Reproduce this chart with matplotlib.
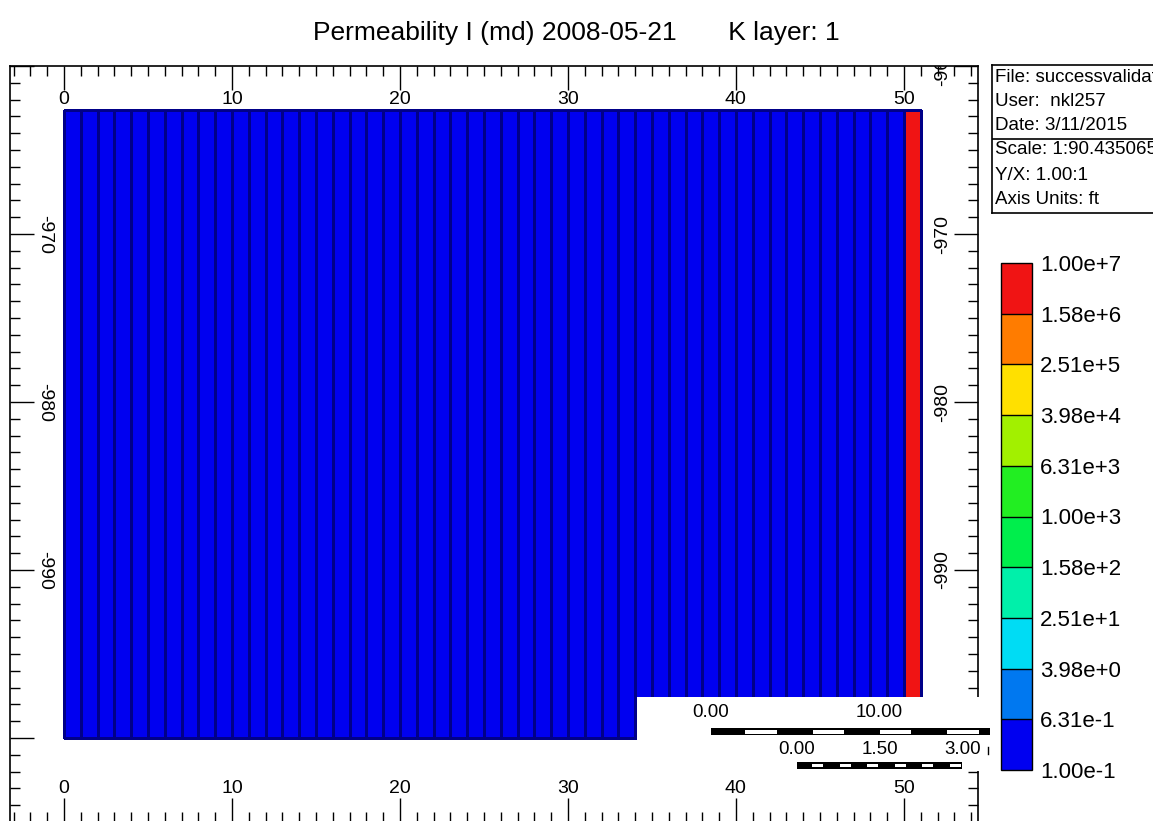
import numpy as np
import matplotlib.pyplot as plt
from matplotlib.colors import ListedColormap, BoundaryNorm
from matplotlib.patches import Rectangle
from matplotlib.ticker import MultipleLocator
import matplotlib.cm as cm

plt.rcParams['font.family'] = ['Liberation Sans', 'DejaVu Sans']

title = 'Permeability I (md) 2008-05-21       K layer: 1'

# grid: 51 columns, 1 ft wide, one row in y
x_edges = list(range(52))
y_edges = [-1000.0, -962.6]
perm = [0.3] * 50 + [1.0e7]

levels = [1.00e-1, 6.31e-1, 3.98e0, 2.51e1, 1.58e2, 1.00e3,
          6.31e3, 3.98e4, 2.51e5, 1.58e6, 1.00e7]
level_labels = ['1.00e-1', '6.31e-1', '3.98e+0', '2.51e+1', '1.58e+2', '1.00e+3',
                '6.31e+3', '3.98e+4', '2.51e+5', '1.58e+6', '1.00e+7']
colors = ['#0000f0', '#0078f0', '#00dcf4', '#00f0aa', '#00ee4c',
          '#22ee22', '#a2f000', '#ffe000', '#ff7c00', '#f01414']

left_ylabels = [-970, -980, -990]
right_ylabels = [-960, -970, -980, -990]

info_top = ['File: successvalidation', 'User:  nkl257', 'Date: 3/11/2015']
info_bot = ['Scale: 1:90.435065', 'Y/X: 1.00:1', 'Axis Units: ft']

# scale bars (ft and m)
ft_per_m = 3.2808
bar1_x0, bar1_seg, bar1_len = 38.5, 2.0, 16.6
bar1_labels = [0.0, 10.0]
bar2_x0, bar2_seg, bar2_len = 43.63, 0.25, 3.0
bar2_labels = [0.0, 1.5, 3.0]

W, H = 1153, 821
fig = plt.figure(figsize=(W / 100, H / 100), dpi=100)
fig.text(0.5, 1 - 33 / H, title, ha='center', va='center', fontsize=19)

ax = fig.add_axes([10 / W, -1 / H, 968 / W, 756 / H])
cmap = ListedColormap(colors)
norm = BoundaryNorm(levels, cmap.N)
ax.pcolormesh(x_edges, y_edges, np.array(perm)[None, :], cmap=cmap, norm=norm,
              edgecolors='#000088', linewidth=0.8)
ax.set_xlim(-3.21, 54.41)
ax.set_ylim(-1005.0, -960.0)

for a in (ax.xaxis, ax.yaxis):
    a.set_major_locator(MultipleLocator(10))
    a.set_minor_locator(MultipleLocator(1))
ax.tick_params(which='both', direction='in', top=True, bottom=True, left=True, right=True,
               width=1.0, color='black')
ax.tick_params(which='major', length=17)
ax.tick_params(which='minor', length=7.5)
ax.tick_params(axis='x', labeltop=True, labelbottom=True, pad=-30, labelsize=14)
ax.tick_params(axis='y', labelleft=False, labelright=False)
for s in ax.spines.values():
    s.set_linewidth(1.2)

for v in left_ylabels:
    ax.text(0.0355, v, str(v), transform=ax.get_yaxis_transform(), rotation=-90,
            ha='center', va='center', fontsize=14, clip_on=True)
for v in right_ylabels:
    ax.text(0.963, v, str(v), transform=ax.get_yaxis_transform(), rotation=90,
            ha='center', va='center', fontsize=14, clip_on=True)

# white box holding the scale bars
ax.add_patch(Rectangle((34.1, -1001.95), 20.6, 4.39, facecolor='white',
                       edgecolor='none', zorder=5, clip_on=False))

# scale bar 1 (ft)
ax.add_patch(Rectangle((bar1_x0, -999.85), bar1_len, 0.42, facecolor='black',
                       edgecolor='none', zorder=6, clip_on=False))
n1 = int(np.ceil(bar1_len / bar1_seg))
for i in range(1, n1, 2):
    x0 = bar1_x0 + i * bar1_seg + 0.06
    w = min(bar1_seg - 0.12, bar1_x0 + bar1_len - x0 - 0.06)
    ax.add_patch(Rectangle((x0, -999.75), w, 0.22, facecolor='white',
                           edgecolor='none', zorder=7, clip_on=False))
for v in bar1_labels:
    ax.text(bar1_x0 + v, -998.5, '%.2f' % v, ha='center', va='center',
            fontsize=13.5, zorder=7, clip_on=False)

# scale bar 2 (m)
ax.add_patch(Rectangle((bar2_x0, -1001.85), bar2_len * ft_per_m, 0.42, facecolor='black',
                       edgecolor='none', zorder=6, clip_on=False))
n2 = int(round(bar2_len / bar2_seg))
for i in range(1, n2, 2):
    x0 = bar2_x0 + i * bar2_seg * ft_per_m + 0.09
    ax.add_patch(Rectangle((x0, -1001.75), bar2_seg * ft_per_m - 0.18, 0.22,
                           facecolor='white', edgecolor='none', zorder=7, clip_on=False))
for v in bar2_labels:
    ax.text(bar2_x0 + v * ft_per_m, -1000.7, '%.2f' % v, ha='center', va='center',
            fontsize=13.5, zorder=7, clip_on=False)
# small stray mark right of the metre labels
ax.plot([55.0, 55.0], [-1000.55, -1000.95], color='black', linewidth=1.0,
        zorder=7, clip_on=False)

# info box
ib = fig.add_axes([992 / W, 1 - 213 / H, 175 / W, 148 / H])
ib.set_xlim(0, 1)
ib.set_ylim(0, 148)
ib.set_xticks([])
ib.set_yticks([])
for s in ib.spines.values():
    s.set_linewidth(1.2)
ib.axhline(74, color='black', linewidth=1.2)
for i, t in enumerate(info_top + info_bot):
    ib.text(0.015, 148 - [12, 37, 61, 85, 111, 135][i], t, va='center', ha='left',
            fontsize=13.5, clip_on=True)

# colour bar
cax = fig.add_axes([1001 / W, (H - 770) / H, 31 / W, 507 / H])
sm = cm.ScalarMappable(norm=norm, cmap=cmap)
cb = fig.colorbar(sm, cax=cax, boundaries=levels, spacing='uniform', drawedges=True)
cb.set_ticks(levels, labels=level_labels)
cb.ax.tick_params(length=0, pad=6, labelsize=16)
cb.outline.set_linewidth(1.0)
cb.dividers.set_linewidth(1.0)

fig.savefig('out.png', dpi=100)
